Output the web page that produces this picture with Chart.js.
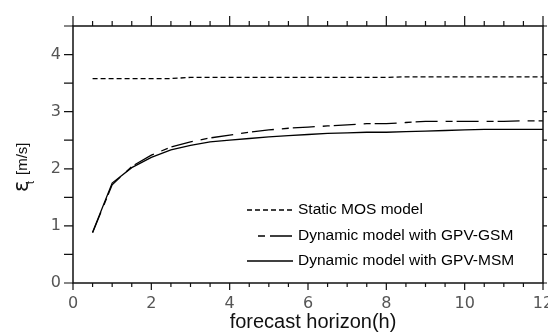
<!DOCTYPE html>
<html>
<head>
<meta charset="utf-8">
<script src="https://cdn.jsdelivr.net/npm/chart.js@4.4.1/dist/chart.umd.min.js"></script>
<style>
html,body{margin:0;padding:0;background:#fff;}
canvas{display:block;}
</style>
</head>
<body>
<canvas id="c" width="548" height="333"></canvas>
<script>
// ---- data ----
const horizons = [0.5,1,1.5,2,2.5,3,3.5,4,4.5,5,5.5,6,6.5,7,7.5,8,8.5,9,9.5,10,10.5,11,11.5,12];
const staticMOS = [3.58,3.58,3.58,3.58,3.58,3.60,3.60,3.60,3.60,3.60,3.60,3.60,3.60,3.60,3.60,3.60,3.61,3.61,3.61,3.61,3.61,3.61,3.61,3.61];
const dynamicGSM = [0.88,1.72,2.04,2.24,2.38,2.47,2.54,2.59,2.64,2.68,2.71,2.73,2.75,2.77,2.79,2.79,2.81,2.83,2.83,2.83,2.83,2.83,2.84,2.84];
const dynamicMSM = [0.89,1.75,2.02,2.20,2.33,2.41,2.47,2.50,2.53,2.56,2.58,2.60,2.62,2.63,2.64,2.64,2.65,2.66,2.67,2.68,2.69,2.69,2.69,2.69];
const seriesNames = ['Static MOS model','Dynamic model with GPV-GSM','Dynamic model with GPV-MSM'];
const xTickLabels = [0,2,4,6,8,10,12];
const yTickLabels = [0,1,2,3,4];
const xTitle = 'forecast horizon(h)';
const yTitleSymbol = 'ε';
const yTitleSub = 't';
const yTitleUnit = '[m/s]';

const dashes = [[5,3],[22,8,7,4],[]];
const series = [staticMOS, dynamicGSM, dynamicMSM];

const datasets = series.map((vals,i)=>({
  label: seriesNames[i],
  data: horizons.map((x,j)=>({x:x,y:vals[j]})),
  borderColor:'#000',
  borderWidth:1.3,
  borderDash:dashes[i],
  pointRadius:0,
  tension:0,
  fill:false
}));

const framePlugin = {
  id:'frame',
  afterDraw(chart){
    const ctx = chart.ctx;
    const xs = chart.scales.x, ys = chart.scales.y;
    const a = chart.chartArea;
    ctx.save();
    ctx.strokeStyle = '#111';
    ctx.lineWidth = 1.5;
    ctx.setLineDash([]);
    ctx.strokeRect(a.left, a.top, a.right-a.left, a.bottom-a.top);
    ctx.lineWidth = 1.2;
    ctx.beginPath();
    for (let v=0; v<=12.001; v+=0.5){
      const px = xs.getPixelForValue(v);
      const major = Math.abs(v/2 - Math.round(v/2))<1e-6;
      ctx.moveTo(px, a.bottom); ctx.lineTo(px, a.bottom + (major?7:4));
      ctx.moveTo(px, a.top); ctx.lineTo(px, a.top - (major?10:5));
    }
    for (let v=0; v<=4.5001; v+=0.5){
      const py = ys.getPixelForValue(v);
      ctx.moveTo(a.left, py); ctx.lineTo(a.left-9, py);
      ctx.moveTo(a.right, py); ctx.lineTo(a.right+4, py);
    }
    ctx.stroke();

    // x-axis title
    ctx.fillStyle = '#111';
    ctx.font = '20px "Liberation Sans", Arial, sans-serif';
    ctx.textAlign = 'center';
    ctx.textBaseline = 'middle';
    ctx.fillText(xTitle, 313, 322);

    // y-axis title: epsilon with subscript t and unit
    ctx.translate(28, 192);
    ctx.rotate(-Math.PI/2);
    ctx.textBaseline = 'alphabetic';
    ctx.textAlign = 'left';
    ctx.font = '21px "DejaVu Sans", sans-serif';
    ctx.fillText(yTitleSymbol, 0, 0);
    ctx.font = '11px "Liberation Sans", Arial, sans-serif';
    ctx.fillText(yTitleSub, 8, 6);
    ctx.font = '15px "Liberation Sans", Arial, sans-serif';
    ctx.fillText(yTitleUnit, 17, -1);
    ctx.restore();

    // legend
    ctx.save();
    const rowsY = [210, 236, 261];
    ctx.font = '15.5px "Liberation Sans", Arial, sans-serif';
    ctx.textBaseline = 'middle';
    ctx.fillStyle = '#000';
    ctx.strokeStyle = '#000';
    ctx.lineWidth = 1.3;
    chart.data.datasets.forEach((ds,i)=>{
      const y = rowsY[i];
      ctx.beginPath();
      if (i===1){
        ctx.setLineDash([]);
        ctx.moveTo(258,y); ctx.lineTo(265,y);
        ctx.moveTo(270,y); ctx.lineTo(292,y);
      } else {
        ctx.setLineDash(ds.borderDash);
        ctx.lineDashOffset = 0;
        ctx.moveTo(247,y); ctx.lineTo(293,y);
      }
      ctx.stroke();
      ctx.setLineDash([]);
      ctx.fillText(ds.label, 298, y);
    });
    ctx.restore();
  }
};

new Chart(document.getElementById('c'), {
  type:'line',
  data:{datasets:datasets},
  plugins:[framePlugin],
  options:{
    responsive:false,
    animation:false,
    layout:{padding:{top:26,right:5,left:0,bottom:0}},
    plugins:{legend:{display:false},tooltip:{enabled:false}},
    scales:{
      x:{
        type:'linear', min:0, max:12,
        grid:{display:false, drawTicks:false},
        border:{display:false},
        afterBuildTicks(s){ s.ticks = xTickLabels.map(v=>({value:v})); },
        ticks:{padding:11, color:'#555', maxRotation:0, autoSkip:false,
               font:{family:'"DejaVu Sans", sans-serif', size:16},
               callback:(v)=>String(v)},
        afterFit(s){ s.height = 50; s.paddingLeft = 0; s.paddingRight = 0; }
      },
      y:{
        type:'linear', min:0, max:4.5,
        grid:{display:false, drawTicks:false},
        border:{display:false},
        afterBuildTicks(s){ s.ticks = yTickLabels.map(v=>({value:v})); },
        ticks:{padding:12, color:'#555',
               font:{family:'"DejaVu Sans", sans-serif', size:16},
               callback:(v)=>String(v)},
        afterFit(s){ s.width = 73; s.paddingTop = 0; s.paddingBottom = 0; }
      }
    }
  }
});
</script>
</body>
</html>
